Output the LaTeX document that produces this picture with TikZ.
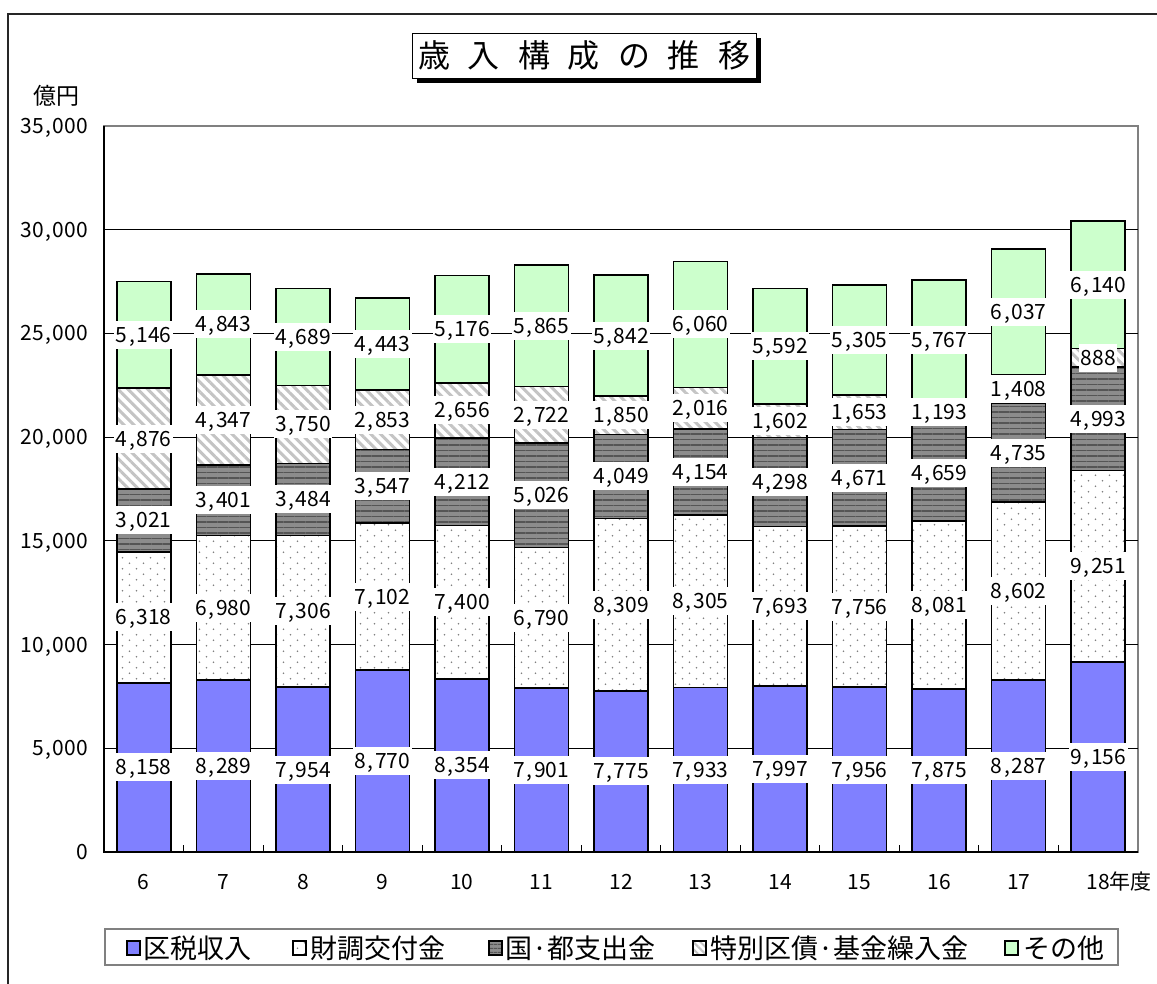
\documentclass[tikz,border=0pt]{standalone}
\usepackage{fontspec}
\setmainfont{Noto Sans CJK JP}
\usetikzlibrary{patterns,patterns.meta}
\definecolor{taxblue}{HTML}{8080FF}
\definecolor{othgreen}{HTML}{CCFFCC}
\definecolor{dotgray}{HTML}{808080}
\definecolor{stripedark}{HTML}{555555}
\definecolor{stripebase}{HTML}{8C8C8C}
\definecolor{hatchgray}{HTML}{C4C4C4}
\definecolor{framegray}{HTML}{808080}
\pgfdeclarepatternformonly{mydots}{\pgfqpoint{-1pt}{-1pt}}{\pgfqpoint{15pt}{12pt}}{\pgfqpoint{14pt}{11pt}}{%
  \pgfpathcircle{\pgfqpoint{3.5pt}{2.75pt}}{0.95pt}%
  \pgfpathcircle{\pgfqpoint{10.5pt}{8.25pt}}{0.95pt}%
  \pgfusepath{fill}}
\newcommand\tsp{\hspace{18pt}}
\newcommand\cmm{\kern1.6pt,\kern1.6pt}
\pgfkeys{/pgf/number format/.cd,1000 sep={\cmm},assume math mode=true}
\tikzset{
  seg/.style={draw=black,line width=1.6pt},
  segA/.style={seg,fill=taxblue},
  segB/.style={seg,preaction={fill=white},preaction={pattern=mydots,pattern color=dotgray}},
  segC/.style={seg,preaction={fill=stripebase},preaction={pattern={Lines[angle=0,distance=5.5pt,line width=1.6pt]},pattern color=stripedark}},
  segD/.style={seg,preaction={fill=white},preaction={pattern={Lines[angle=-45,distance=7pt,line width=3pt]},pattern color=hatchgray}},
  segE/.style={seg,fill=othgreen},
  numfont/.style={font=\fontsize{21pt}{24pt}\selectfont},
  vlab/.style={numfont,fill=white,inner xsep=1.5pt,inner ysep=1.5pt,text height=20pt,text depth=5pt},
  ticklab/.style={numfont,inner sep=0pt,text height=20pt,text depth=5pt},
  legtext/.style={font=\fontsize{27pt}{30pt}\selectfont,anchor=west,inner sep=0pt},
  legmark/.style={line width=1.4pt,draw=black},
  grid/.style={line width=1pt,black},
}
\begin{document}
\begin{tikzpicture}[x=1pt,y=-1pt]
\useasboundingbox (0,0) rectangle (1157,984);
\fill[white] (0,0) rectangle (1157,984);
% outer frame
\draw[line width=1.3pt,black!85] (8,984) -- (8,14) -- (1157,14);
% title
\fill[black] (417,38) rectangle (761,83);
\node[draw=black,line width=0.8pt,fill=white,minimum width=344pt,minimum height=45pt,inner sep=0pt,
  font=\fontsize{32pt}{36pt}\selectfont] (title) at (584,55.5) {歳\tsp 入\tsp 構\tsp 成\tsp の\tsp 推\tsp 移};
% unit
\node[font=\fontsize{23pt}{26pt}\selectfont,inner sep=0pt] (unit) at (56,96) {億円};
% plot area
\draw[framegray,line width=1.5pt] (104,126) rectangle (1138,852);
\foreach \v in {5,10,...,30}{
  \draw[grid] (104,{852-20.7429*\v}) -- (1138,{852-20.7429*\v});
}
\foreach \v/\t in {0/0,5/5\cmm000,10/10\cmm000,15/15\cmm000,20/20\cmm000,25/25\cmm000,30/30\cmm000,35/35\cmm000}{
  \node[ticklab,anchor=east] (y\v) at (88,{852-20.7429*\v}) {\t};
}
\draw[black,line width=1.6pt] (104,126) -- (104,852) -- (1138,852);
\foreach \k in {1,...,12}{
  \draw[black,line width=1pt] ({104+79.538*\k},852) -- ({104+79.538*\k},845);
}
% bars
\foreach \i/\a/\b/\c/\d/\e in {0/8158/6318/3021/4876/5146,1/8289/6980/3401/4347/4843,2/7954/7306/3484/3750/4689,3/8770/7102/3547/2853/4443,4/8354/7400/4212/2656/5176,5/7901/6790/5026/2722/5865,6/7775/8309/4049/1850/5842,7/7933/8305/4154/2016/6060,8/7997/7693/4298/1602/5592,9/7956/7756/4671/1653/5305,10/7875/8081/4659/1193/5767,11/8287/8602/4735/1408/6037,12/9156/9251/4993/888/6140}{
  \pgfmathsetmacro\cx{104+79.538*(\i+0.5)}
  \pgfmathsetmacro\ya{852}
  \pgfmathsetmacro\yb{\ya-0.0207429*\a}
  \pgfmathsetmacro\yc{\yb-0.0207429*\b}
  \pgfmathsetmacro\yd{\yc-0.0207429*\c}
  \pgfmathsetmacro\ye{\yd-0.0207429*\d}
  \pgfmathsetmacro\yf{\ye-0.0207429*\e}
  \draw[segA] ({\cx-27},\ya) rectangle ({\cx+27},\yb);
  \draw[segB] ({\cx-27},\yb) rectangle ({\cx+27},\yc);
  \draw[segC] ({\cx-27},\yc) rectangle ({\cx+27},\yd);
  \draw[segD] ({\cx-27},\yd) rectangle ({\cx+27},\ye);
  \draw[segE] ({\cx-27},\ye) rectangle ({\cx+27},\yf);
  \node[vlab] (la\i) at (\cx,{(\ya+\yb)/2}) {\pgfmathprintnumber{\a}};
  \node[vlab] (lb\i) at (\cx,{(\yb+\yc)/2}) {\pgfmathprintnumber{\b}};
  \node[vlab] (lc\i) at (\cx,{(\yc+\yd)/2}) {\pgfmathprintnumber{\c}};
  \node[vlab] (ld\i) at (\cx,{(\yd+\ye)/2}) {\pgfmathprintnumber{\d}};
  \node[vlab] (le\i) at (\cx,{(\ye+\yf)/2}) {\pgfmathprintnumber{\e}};
}
% x labels
\foreach \i/\t in {0/6,1/7,2/8,3/9,4/10,5/11,6/12,7/13,8/14,9/15,10/16,11/17}{
  \node[ticklab] (x\i) at ({104+79.538*(\i+0.5)},882) {\t};
}
\node[ticklab] (x12) at ({104+79.538*12.5},882) {18\rlap{年度}};
% legend
\draw[framegray,line width=1.3pt,fill=white] (105,929) rectangle (1118,965);
\draw[legmark,fill=taxblue] (127,941) rectangle (140,955);
\node[legtext] (lg1) at (143,948) {区税収入};
\draw[legmark,preaction={fill=white},preaction={pattern=mydots,pattern color=dotgray}] (293,941) rectangle (306,955);
\node[legtext] (lg2) at (310,948) {財調交付金};
\draw[legmark,preaction={fill=stripebase},preaction={pattern={Lines[angle=0,distance=4pt,line width=1.3pt]},pattern color=stripedark}] (489,941) rectangle (502,955);
\node[legtext] (lg3) at (505,948) {国·都支出金};
\draw[legmark,preaction={fill=white},preaction={pattern={Lines[angle=-45,distance=5pt,line width=2pt]},pattern color=hatchgray}] (693,941) rectangle (706,955);
\node[legtext] (lg4) at (710,948) {特別区債·基金繰入金};
\draw[legmark,fill=othgreen] (1005,941) rectangle (1018,955);
\node[legtext] (lg5) at (1023,948) {その他};
\end{tikzpicture}
\end{document}
